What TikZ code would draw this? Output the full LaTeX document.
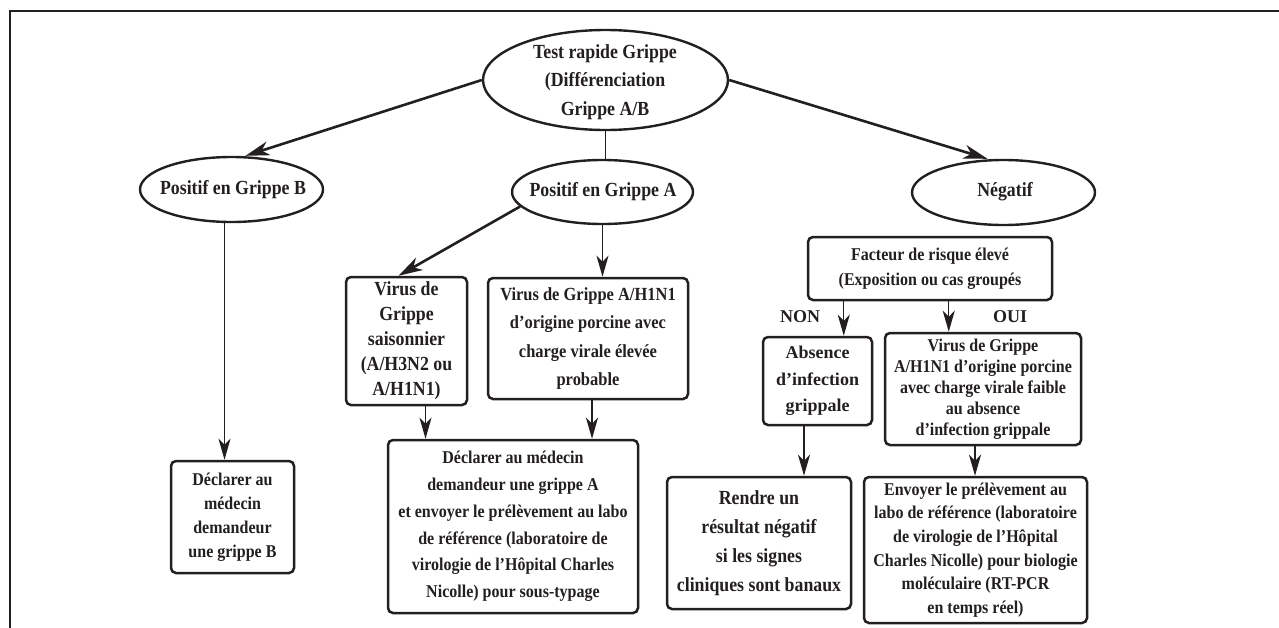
\documentclass[tikz,border=0pt]{standalone}
\usepackage{fontspec}
\setmainfont{Liberation Serif}
\newfontfamily\condf{Liberation Serif}[FakeStretch=0.89]
\usetikzlibrary{arrows.meta,shapes.geometric,calc}
\definecolor{ink}{RGB}{35,31,32}
\newcommand{\myfc}[2]{\condf\bfseries\fontsize{#1}{#2}\selectfont}
\newcommand{\myfn}[2]{\rmfamily\bfseries\fontsize{#1}{#2}\selectfont}
\tikzset{
  ell/.style={draw=ink, ellipse, line width=2.4pt, inner sep=0pt},
  box/.style={draw=ink, rounded corners=5pt, line width=2.5pt, inner sep=0pt, align=center, text=ink},
  txt/.style={align=center, text=ink, inner sep=0pt},
  thinarr/.style={-{Stealth[length=21pt,width=12pt,inset=6pt]}, line width=1.4pt, draw=ink},
  thickarr/.style={-{Stealth[length=24pt,width=14pt,inset=7pt]}, line width=2.6pt, draw=ink},
  thinline/.style={line width=1.4pt, draw=ink},
  frameline/.style={line width=2.8pt, draw=ink},
}
\begin{document}
\begin{tikzpicture}[x=1pt,y=-1pt]
\useasboundingbox (0,0) rectangle (1279,627);
\draw[frameline] (10,650) -- (10,11) -- (1300,11);

% ellipses
\node[ell, minimum width=245pt, minimum height=100pt] (test) at (605.5,80) {};
\node[txt, font=\myfc{20}{28.5}] (testtxt) at (605,82) {Test rapide Grippe\\(Différenciation\\Grippe A/B};
\node[ell, minimum width=183pt, minimum height=65pt] (pb) at (231.5,189.5) {};
\node[txt, font=\myfc{20}{24}] (pbtxt) at (233,190) {Positif en Grippe B};
\node[ell, minimum width=181pt, minimum height=64pt] (pa) at (602.5,192) {};
\node[txt, font=\myfc{20}{24}] (patxt) at (603,192) {Positif en Grippe A};
\node[ell, minimum width=183pt, minimum height=65pt] (neg) at (1003.5,192.5) {};
\node[txt, font=\myfc{20}{24}] (negtxt) at (1005,192) {Négatif};

% boxes
\node[box, minimum width=123pt, minimum height=112pt, font=\myfc{18}{24}] (db) at (232.5,517)
  {Déclarer au\\médecin\\demandeur\\une grippe B};
\node[box, minimum width=121pt, minimum height=128pt, font=\myfc{20}{25}] (sais) at (406.5,341)
  {Virus de\\Grippe\\saisonnier\\(A/H3N2 ou\\A/H1N1)};
\node[box, minimum width=200pt, minimum height=121pt, font=\myfc{18.5}{28.5}] (h1) at (588,338.5)
  {Virus de Grippe A/H1N1\\d’origine porcine avec\\charge virale élevée\\probable};
\node[box, minimum width=250pt, minimum height=173pt, font=\myfc{18}{26.8}] (da) at (513,526.5)
  {Déclarer au médecin\\demandeur une grippe A\\et envoyer le prélèvement au labo\\de référence (laboratoire de\\virologie de l’Hôpital Charles\\Nicolle) pour sous-typage};
\node[box, minimum width=244pt, minimum height=63pt, font=\myfc{18}{25}] (fac) at (930,268.5)
  {Facteur de risque élevé\\(Exposition ou cas groupés};
\node[box, minimum width=109pt, minimum height=88pt, font=\myfn{18}{26.5}] (abs) at (817.5,381)
  {Absence\\d’infection\\grippale};
\node[box, minimum width=196pt, minimum height=112pt, font=\myfc{18}{21}] (faib) at (983,389)
  {Virus de Grippe\\A/H1N1 d’origine porcine\\avec charge virale faible\\au absence\\d’infection grippale};
\node[box, minimum width=184pt, minimum height=132pt, font=\myfc{20}{29}] (rend) at (759,543)
  {Rendre un\\résultat négatif\\si les signes\\cliniques sont banaux};
\node[box, minimum width=223pt, minimum height=146pt, font=\myfc{18}{23.6}] (env) at (975.5,550)
  {Envoyer le prélèvement au\\labo de référence (laboratoire\\de virologie de l’Hôpital\\Charles Nicolle) pour biologie\\moléculaire (RT-PCR\\en temps réel)};

% labels
\node[txt, font=\myfn{18}{22}] (non) at (800,317) {NON};
\node[txt, font=\myfn{18}{22}] (oui) at (1010,317) {OUI};

% helper coordinates
\path ([xshift=14pt]pb.north) coordinate (pbtop)
      ([xshift=-16pt]neg.north) coordinate (negtop)
      ([xshift=-8pt]sais.north) coordinate (saistop)
      ([xshift=-7pt]pb.south) coordinate (pbbot)
      ([xshift=19pt]sais.south) coordinate (saisbot)
      ([xshift=4pt]h1.south) coordinate (h1bot)
      ([xshift=37pt]fac.south west) coordinate (facl)
      ([xshift=142pt]fac.south west) coordinate (facr)
      ([xshift=-13.5pt]abs.south) coordinate (absbot)
      ([xshift=-8pt]faib.south) coordinate (faibbot);

% connectors
\draw[thickarr] (test.west) -- (pbtop);
\draw[thickarr] (test.east) -- (negtop);
\draw[thinline] (test.south) -- (test.south |- pa.north);
\draw[thickarr] (pa.190) -- (saistop);
\draw[thinarr] (pa.south) -- (pa.south |- h1.north);
\draw[thinarr] (pbbot) -- (pbbot |- db.north);
\draw[thinarr] (saisbot) -- (saisbot |- da.north);
\draw[thinarr] (h1bot) -- (h1bot |- da.north);
\draw[thinarr] (facl) -- (facl |- abs.north);
\draw[thinarr] (facr) -- (facr |- faib.north);
\draw[thinarr] (absbot) -- (absbot |- rend.north);
\draw[thinarr] (faibbot) -- (faibbot |- env.north);
\end{tikzpicture}
\end{document}
